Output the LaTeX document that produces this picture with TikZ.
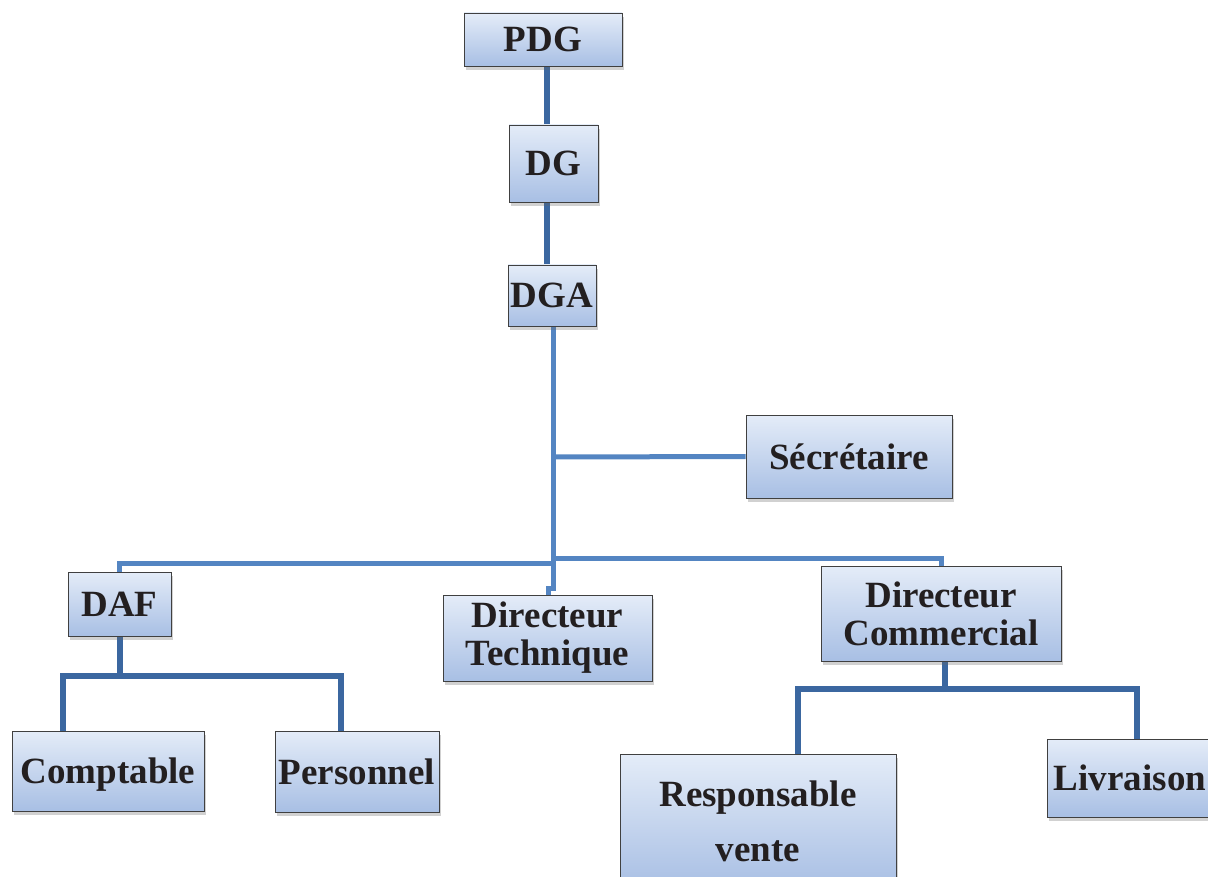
\documentclass[tikz,border=0pt]{standalone}
\usepackage{fontspec}
\setmainfont{Liberation Serif}
\usetikzlibrary{shadows,backgrounds}
\definecolor{boxtop}{HTML}{E4ECF8}
\definecolor{boxbot}{HTML}{A8BFE4}
\definecolor{linkdark}{HTML}{3B67A0}
\definecolor{linklight}{HTML}{5485C2}
\definecolor{ink}{HTML}{231F20}
\tikzset{
  post/.style={draw=black!75, line width=0.8pt, top color=boxtop, bottom color=boxbot,
    inner sep=0pt, text=ink, align=center,
    font=\fontsize{37}{38}\selectfont\bfseries,
    drop shadow={shadow xshift=2pt, shadow yshift=-4pt, opacity=0.3, fill=black!60}},
  oneline/.style={text height=25pt, text depth=0pt},
  sublink/.style={draw=linkdark, line width=6pt},
  trunk/.style={draw=linklight, line width=5pt},
}
\begin{document}
\begin{tikzpicture}[x=1pt, y=-1pt]
\useasboundingbox (0,0) rectangle (1208,877);

% junction points of the tree
\coordinate (jog) at (553,588);
\coordinate (secjoin) at (553,457);
\coordinate (rightjoin) at (553,558);
\coordinate (leftjoin) at (553,563);
\coordinate (dafbar) at (120,676);
\coordinate (dafL) at (63,676);
\coordinate (dafR) at (341,676);
\coordinate (dcbar) at (945,689);
\coordinate (dcL) at (798,689);
\coordinate (dcR) at (1137,689);

% boxes
\node[post, oneline, minimum width=158pt, minimum height=53pt] (pdg) at (543,39.5) {PDG};
\node[post, oneline, minimum width=89pt, minimum height=77pt] (dg) at (553.5,163.5) {DG};
\node[post, oneline, minimum width=88pt, minimum height=61pt] (dga) at (552,295.5) {DGA};
\node[post, oneline, minimum width=206pt, minimum height=83pt] (sec) at (849,456.5) {Sécrétaire};
\node[post, oneline, minimum width=103pt, minimum height=64pt] (daf) at (119.5,604) {DAF};
\node[post, minimum width=209pt, minimum height=86pt] (dt) at (547.5,638) {Directeur\\Technique};
\node[post, minimum width=240pt, minimum height=95pt] (dc) at (941,613.5) {Directeur\\Commercial};
\node[post, oneline, minimum width=192pt, minimum height=80pt] (compta) at (108,771) {Comptable};
\node[post, oneline, minimum width=164pt, minimum height=81pt] (perso) at (357,771.5) {Personnel};
\node[post, font=\fontsize{37}{55}\selectfont\bfseries, minimum width=276pt, minimum height=134pt] (resp) at (758,821) {Responsable\\vente};
\node[post, oneline, minimum width=166pt, minimum height=78pt] (livr) at (1130,778) {Livraison};

% connectors behind the boxes
\begin{scope}[on background layer]
  \draw[sublink] (pdg.south -| 547,0) -- (dg.north -| 547,0);
  \draw[sublink] (dg.south -| 547,0) -- (dga.north -| 547,0);
  \draw[trunk] (dga.south -| 553,0) -- (jog) -- (jog -| 548,0) -- (dt.north -| 548,0);
  \draw[trunk] (secjoin) -- (sec.west);
  \draw[trunk] (rightjoin) -- (rightjoin -| dc.north) -- (dc.north);
  \draw[trunk] (leftjoin) -- (leftjoin -| daf.north) -- (daf.north);
  \draw[sublink] (daf.south -| dafbar) -- (dafbar);
  \draw[sublink] (compta.north -| dafL) -- (dafL) -- (dafR) -- (perso.north -| dafR);
  \draw[sublink] (dc.south -| dcbar) -- (dcbar);
  \draw[sublink] (resp.north -| dcL) -- (dcL) -- (dcR) -- (livr.north -| dcR);
\end{scope}
\end{tikzpicture}
\end{document}
